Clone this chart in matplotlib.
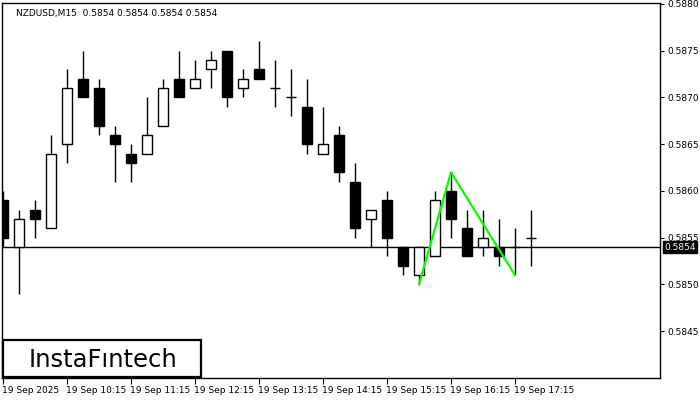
import matplotlib
matplotlib.use("Agg")
import matplotlib.pyplot as plt
from matplotlib.patches import Rectangle
import matplotlib.transforms as mtransforms

# NZDUSD M15 candles, 19 Sep 2025 from 09:15
opens = [0.5859, 0.5854, 0.5858, 0.5856, 0.5865, 0.5872, 0.5871, 0.5866, 0.5864, 0.5864,
         0.5867, 0.5872, 0.5871, 0.5873, 0.5875, 0.5871, 0.5873, 0.5871, 0.5870, 0.5869,
         0.5864, 0.5866, 0.5861, 0.5857, 0.5859, 0.5854, 0.5851, 0.5853, 0.5860, 0.5856,
         0.5854, 0.5854, 0.5854, 0.5855]
highs = [0.5860, 0.5858, 0.5859, 0.5866, 0.5873, 0.5875, 0.5872, 0.5867, 0.5865, 0.5870,
         0.5872, 0.5875, 0.5874, 0.5875, 0.5875, 0.5873, 0.5876, 0.5874, 0.5873, 0.5872,
         0.5869, 0.5867, 0.5863, 0.5858, 0.5860, 0.5854, 0.5854, 0.5860, 0.5862, 0.5858,
         0.5858, 0.5857, 0.5856, 0.5858]
lows = [0.5854, 0.5849, 0.5855, 0.5856, 0.5863, 0.5870, 0.5866, 0.5861, 0.5861, 0.5864,
        0.5867, 0.5870, 0.5871, 0.5871, 0.5869, 0.5870, 0.5872, 0.5869, 0.5868, 0.5864,
        0.5864, 0.5861, 0.5855, 0.5854, 0.5853, 0.5851, 0.5850, 0.5853, 0.5855, 0.5853,
        0.5853, 0.5852, 0.5851, 0.5852]
closes = [0.5855, 0.5857, 0.5857, 0.5864, 0.5871, 0.5870, 0.5867, 0.5865, 0.5863, 0.5866,
          0.5871, 0.5870, 0.5872, 0.5874, 0.5870, 0.5872, 0.5872, 0.5871, 0.5870, 0.5865,
          0.5865, 0.5862, 0.5856, 0.5858, 0.5855, 0.5852, 0.5854, 0.5859, 0.5857, 0.5853,
          0.5855, 0.5853, 0.5854, 0.5855]

time_labels = ["19 Sep 2025", "19 Sep 10:15", "19 Sep 11:15", "19 Sep 12:15", "19 Sep 13:15",
               "19 Sep 14:15", "19 Sep 15:15", "19 Sep 16:15", "19 Sep 17:15"]
price_ticks = [0.5845, 0.5850, 0.5855, 0.5860, 0.5865, 0.5870, 0.5875, 0.5880]

# double top pattern (green)
pattern_idx = [26, 28, 32]
pattern_price = [0.5850, 0.5862, 0.5851]

current_price = 0.5854
title = "NZDUSD,M15  0.5854 0.5854 0.5854 0.5854"

fig = plt.figure(figsize=(7, 4), dpi=100)
ax = fig.add_axes([2 / 700, 22 / 400, 658 / 700, 375 / 400])

for i in range(len(opens)):
    o, h, l, c = opens[i], highs[i], lows[i], closes[i]
    ax.vlines(i, l, h, color="black", lw=1, zorder=2)
    fc = "white" if c >= o else "black"
    ax.bar(i, c - o, bottom=o, width=0.62, color=fc, edgecolor="black", lw=1, zorder=3)

ax.axhline(current_price, color="black", lw=1, zorder=1)
ax.plot(pattern_idx, pattern_price, color="#00ff00", lw=1.6, zorder=5)

ax.set_xlim(-0.06, 41.06)
ax.set_ylim(0.58400, 0.58801)

ax.yaxis.tick_right()
ax.set_yticks(price_ticks)
ax.set_yticklabels(["%.4f" % p for p in price_ticks])
ax.tick_params(axis="y", length=3, width=0.8, labelsize=6.5, pad=2)
ax.set_xticks(range(0, 33, 4))
ax.set_xticklabels(time_labels, ha="left")
ax.tick_params(axis="x", length=4, width=0.8, labelsize=6.5, pad=2)
for lab in ax.get_xticklabels():
    lab.set_transform(lab.get_transform() + mtransforms.ScaledTranslation(-1 / 100, 0, fig.dpi_scale_trans))
for sp in ax.spines.values():
    sp.set_linewidth(1)

ax.text(0.022, 0.985, title, transform=ax.transAxes, fontsize=6.5, va="top", ha="left")

# current price marker on right axis
trans = mtransforms.blended_transform_factory(ax.transAxes, ax.transData)
ax.text(1.006, current_price, "0.5854", transform=trans, fontsize=6.5, color="white",
        va="center", ha="left", zorder=10, clip_on=False,
        bbox=dict(boxstyle="square,pad=0.15", fc="black", ec="black"))

# logo box
fig.add_artist(Rectangle((3 / 700, 23 / 400), 198 / 700, 37 / 400, transform=fig.transFigure,
                         facecolor="white", edgecolor="black", lw=1.6, zorder=20))
fig.text(103 / 700, 40 / 400, "InstaF\u0131ntech", fontsize=17.5,
         ha="center", va="center", color="black", zorder=21)

fig.savefig("out.png", dpi=100)
